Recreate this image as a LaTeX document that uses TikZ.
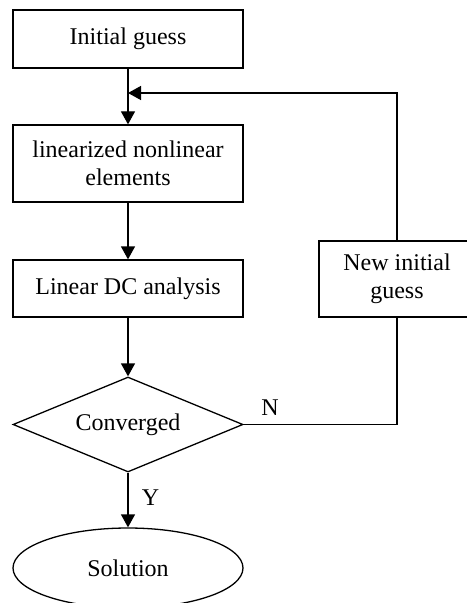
\documentclass[tikz,border=0pt]{standalone}
\usepackage{fontspec}
\setmainfont{Liberation Serif}
\usetikzlibrary{shapes.geometric,arrows.meta}
\begin{document}
\begin{tikzpicture}[x=1bp,y=-1bp,
  every node/.style={font=\fontsize{24bp}{28bp}\selectfont},
  stepbox/.style={draw,line width=1.3bp,minimum width=230bp,align=center,inner sep=0pt},
  flow/.style={line width=1.3bp,-{Triangle[length=13bp,width=14bp]}},
  line/.style={line width=1.3bp}]
\clip (0,0) rectangle (467,603);
\node[stepbox,minimum height=58bp] (init) at (128,39) {Initial guess};
\node[stepbox,minimum height=77bp] (lin) at (128,163.5) {linearized nonlinear\\elements};
\node[stepbox,minimum height=57bp] (dc) at (128,288.5) {Linear DC analysis};
\node[draw,line width=1.3bp,diamond,minimum width=230bp,minimum height=95bp,aspect=2.4,inner sep=0pt] (conv) at (128,424.5) {};
\node at (conv.center) {Converged};
\node[draw,line width=1.3bp,ellipse,minimum width=230bp,minimum height=80bp,inner sep=0pt] (sol) at (128,568) {Solution};
\node[stepbox,minimum width=156bp,minimum height=76bp] (newg) at (397,279) {New initial\\guess};
\coordinate (merge) at (128,93);
\coordinate (corner) at (397,93);
\coordinate (ncorner) at (397,424.5);
\draw[flow] (init.south) -- (lin.north);
\draw[flow] (lin.south) -- (dc.north);
\draw[flow] (dc.south) -- (conv.north);
\draw[flow] (conv.south) -- node[right=10bp,pos=0.45] {Y} (sol.north);
\draw[line] (conv.east) -- (ncorner) -- (newg.south);
\node at (270,408) {N};
\draw[flow] (newg.north) -- (corner) -- (merge);
\end{tikzpicture}
\end{document}
